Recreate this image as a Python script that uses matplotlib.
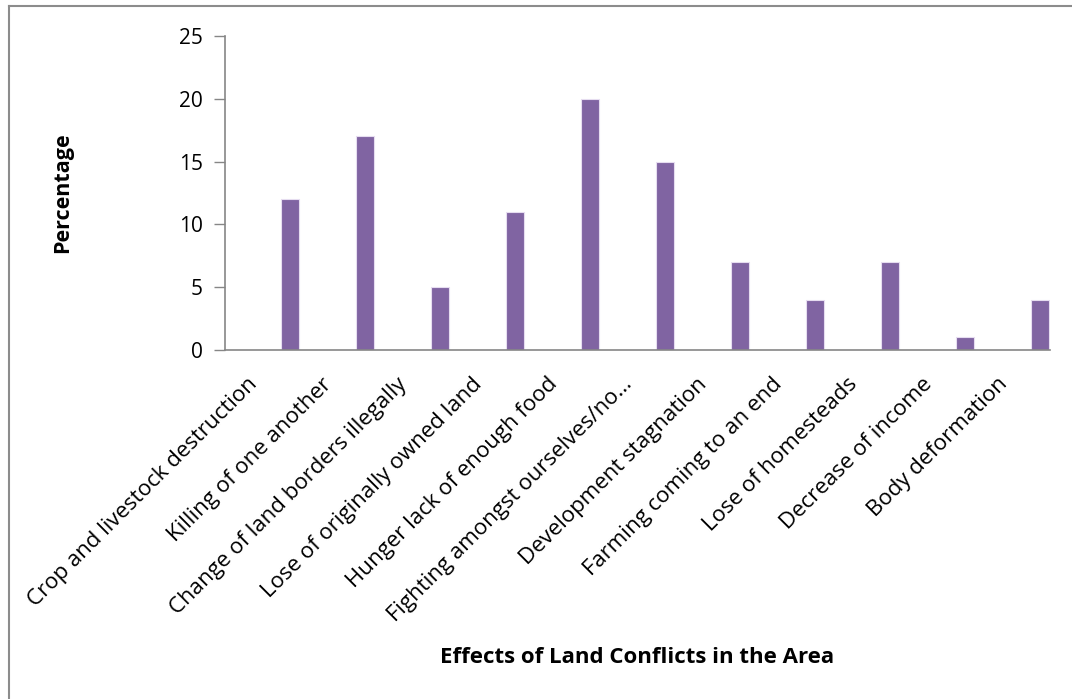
import matplotlib
matplotlib.use('Agg')
import matplotlib.pyplot as plt
from matplotlib.lines import Line2D
from matplotlib.transforms import ScaledTranslation

categories = [
    'Crop and livestock destruction',
    'Killing of one another',
    'Change of land borders illegally',
    'Lose of originally owned land',
    'Hunger lack of enough food',
    'Fighting amongst ourselves/no\u2026',
    'Development stagnation',
    'Farming coming to an end',
    'Lose of homesteads',
    'Decrease of income',
    'Body deformation',
]
percentages = [12, 17, 5, 11, 20, 15, 7, 4, 7, 1, 4]
y_ticks = [0, 5, 10, 15, 20, 25]

plt.rcParams['font.family'] = ['Open Sans', 'DejaVu Sans']

fig = plt.figure(figsize=(10.72, 6.99), dpi=100)
ax = fig.add_axes([0.2099, 0.4993, 0.7696, 0.4492])

# bars sit at the right side of each category slot
xs = [i + 0.367 for i in range(len(categories))]
ax.bar(xs, percentages, width=0.24, color='#8064A2', edgecolor='#E6DDF0', linewidth=0.8)

ax.set_xlim(-0.5, len(categories) - 0.5)
ax.set_ylim(0, 25)
ax.set_yticks(y_ticks)
ax.set_yticklabels([str(t) for t in y_ticks], fontsize=15)
ax.tick_params(axis='y', length=8, width=1, color='#868686', pad=8)

ax.set_xticks(range(len(categories)))
ax.set_xticklabels(categories, rotation=45, ha='right', rotation_mode='anchor', fontsize=16)
ax.tick_params(axis='x', length=0, pad=17)
shift = ScaledTranslation(-16 / 100, 0, fig.dpi_scale_trans)
for lbl in ax.get_xticklabels():
    lbl.set_transform(lbl.get_transform() + shift)

for side in ['top', 'right']:
    ax.spines[side].set_visible(False)
for side in ['left', 'bottom']:
    ax.spines[side].set_color('#868686')
    ax.spines[side].set_linewidth(1.2)

ax.set_ylabel('Percentage', fontsize=15.5, fontweight='bold')
ax.yaxis.set_label_coords(-0.184, 0.5)
fig.text(0.594, 0.06, 'Effects of Land Conflicts in the Area', fontsize=16,
         fontweight='bold', ha='center', va='center')

# chart border
fig.add_artist(Line2D([0.0085, 0.0085], [0, 0.9914], transform=fig.transFigure, color='#8c8c8c', linewidth=1.5))
fig.add_artist(Line2D([0.0085, 1.0], [0.9914, 0.9914], transform=fig.transFigure, color='#8c8c8c', linewidth=1.5))

fig.savefig('out.png', dpi=100)
